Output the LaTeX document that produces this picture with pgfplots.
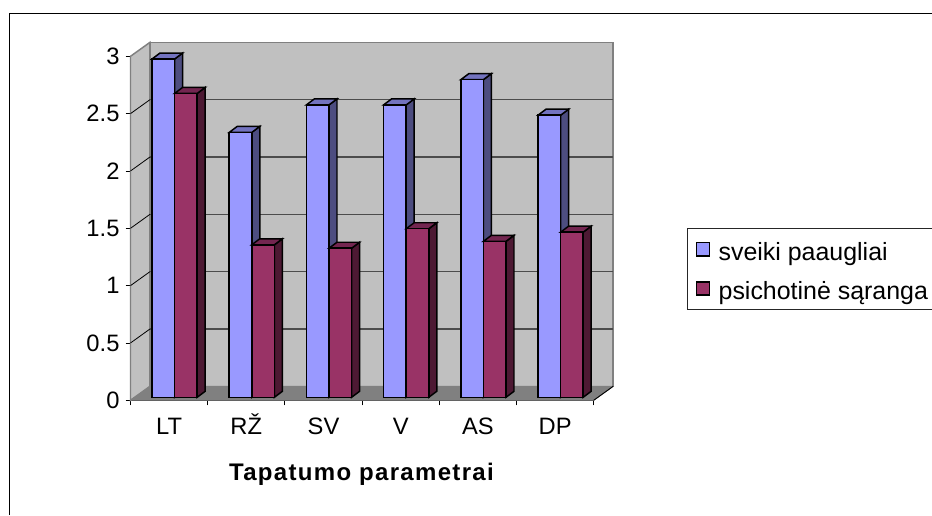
\documentclass[border=0pt]{standalone}
\usepackage{pgfplots}
\pgfplotsset{compat=1.18}
\usepackage{fontspec}
\setmainfont{Liberation Sans}
\def\px{0.75pt}
\definecolor{bluef}{HTML}{9999FF}\definecolor{blues}{HTML}{4D4D80}\definecolor{bluet}{HTML}{7373BF}
\definecolor{redf}{HTML}{993366}\definecolor{reds}{HTML}{4D1933}\definecolor{redt}{HTML}{732650}
\definecolor{wall}{HTML}{C0C0C0}\definecolor{floorc}{HTML}{808080}
\newcommand\threedbar[6]{%
 \pgfmathsetmacro\xa{#1+0.2785+#2*0.2927}%
 \pgfmathsetmacro\xb{\xa+0.2927}%
 \pgfmathsetmacro\xc{\xb+0.1036}%
 \pgfmathsetmacro\xd{\xa+0.1036}%
 \pgfmathsetmacro\yb{0.0262}%
 \pgfmathsetmacro\yt{#3+0.0262}%
 \pgfmathsetmacro\yu{\yt+0.0523}%
 \pgfmathsetmacro\yc{\yb+0.0523}%
 \edef\tmp{\noexpand\addplot[forget plot,fill=#5,draw=black,line width=1.1pt] coordinates {(\xb,\yb) (\xc,\yc) (\xc,\yu) (\xb,\yt)} --cycle;
 \noexpand\addplot[forget plot,fill=#6,draw=black,line width=1.1pt] coordinates {(\xa,\yt) (\xb,\yt) (\xc,\yu) (\xd,\yu)} --cycle;
 \noexpand\addplot[forget plot,fill=#4,draw=black,line width=1.1pt] coordinates {(\xa,\yb) (\xb,\yb) (\xb,\yt) (\xa,\yt)} --cycle;}%
 \tmp}
\begin{document}
\begin{tikzpicture}
\path[use as bounding box] (0,0) rectangle (932*\px,515*\px);
\fill[white] (0,0) rectangle (932*\px,515*\px);
\draw[black,line width=1pt] (9.5*\px,0) -- (9.5*\px,501.5*\px) -- (932*\px,501.5*\px);
\begin{axis}[
 at={(130.5*\px,114.7*\px)},anchor=origin,
 scale only axis,width=463.2*\px,height=344*\px,
 xmin=0,xmax=6,ymin=0,ymax=3,clip=false,
 axis x line*=bottom,axis y line*=left,axis line style={-,black,line width=0.8pt},
 tick align=outside,
 xtick={0.5,1.5,2.5,3.5,4.5,5.5},
 xticklabels={LT,RŽ,SV,V,AS,DP},
 major x tick style={draw=none},
 minor xtick={0,1,2,3,4,5,6},
 minor tick length=3.75pt,
 minor x tick style={black,line width=0.7pt},
 ytick={0,0.5,1,1.5,2,2.5,3},
 major tick length=3.75pt,
 y tick style={black,line width=0.7pt},
 tick label style={font=\fontsize{17.8pt}{20pt}\selectfont},
 x tick label style={yshift=-5pt,text height=13pt,text depth=0pt},
 y tick label style={xshift=-1pt},
 /pgf/number format/assume math mode=true,
 xlabel={\textbf{\addfontfeature{LetterSpace=5.5}Tapatumo parametrai}},
 xlabel style={font=\fontsize{18pt}{20pt}\selectfont,at={(axis description cs:0.5,-0.215)},anchor=center},
 legend image code/.code={\draw[#1] (3pt,-5pt) rectangle (13pt,5pt);\path (0pt,0pt) (17.25pt,0pt);},
 legend style={at={(axis description cs:1.2015,0.502)},anchor=north west,draw=black!85,line width=0.7pt,
   font=\fontsize{18.7pt}{20pt}\selectfont,inner xsep=3pt,inner ysep=6pt,row sep=9.3pt,
   nodes={text depth=0pt,text height=16pt}},
 legend cell align=left,
]
% walls
\addplot[forget plot,fill=wall,draw=floorc,line width=1.1pt] coordinates {(0,0) (0.2526,0.1221) (0.2526,3.1221) (0,3)} --cycle;
\addplot[forget plot,fill=wall,draw=floorc,line width=1.1pt] coordinates {(0.2526,0.1221) (6.2526,0.1221) (6.2526,3.1221) (0.2526,3.1221)} --cycle;
\addplot[forget plot,fill=floorc,draw=floorc,line width=0.5pt] coordinates {(0,0) (0.2526,0.1221) (6.2526,0.1221) (6,0)} --cycle;
\addplot[forget plot,draw=black,line width=0.7pt] coordinates {(6,0) (6.2526,0.1221)};
% grid
\addplot[forget plot,draw=black!70,line width=1pt] coordinates {(0.2526,0.6221) (6.2526,0.6221)};
\addplot[forget plot,draw=black,line width=0.6pt] coordinates {(0,0.5) (0.2526,0.6221)};
\addplot[forget plot,draw=black!70,line width=1pt] coordinates {(0.2526,1.1221) (6.2526,1.1221)};
\addplot[forget plot,draw=black,line width=0.6pt] coordinates {(0,1) (0.2526,1.1221)};
\addplot[forget plot,draw=black!70,line width=1pt] coordinates {(0.2526,1.6221) (6.2526,1.6221)};
\addplot[forget plot,draw=black,line width=0.6pt] coordinates {(0,1.5) (0.2526,1.6221)};
\addplot[forget plot,draw=black!70,line width=1pt] coordinates {(0.2526,2.1221) (6.2526,2.1221)};
\addplot[forget plot,draw=black,line width=0.6pt] coordinates {(0,2) (0.2526,2.1221)};
\addplot[forget plot,draw=black!70,line width=1pt] coordinates {(0.2526,2.6221) (6.2526,2.6221)};
\addplot[forget plot,draw=black,line width=0.6pt] coordinates {(0,2.5) (0.2526,2.6221)};
\threedbar{0}{0}{2.95}{bluef}{blues}{bluet}\threedbar{0}{1}{2.65}{redf}{reds}{redt}
\threedbar{1}{0}{2.31}{bluef}{blues}{bluet}\threedbar{1}{1}{1.33}{redf}{reds}{redt}
\threedbar{2}{0}{2.55}{bluef}{blues}{bluet}\threedbar{2}{1}{1.30}{redf}{reds}{redt}
\threedbar{3}{0}{2.55}{bluef}{blues}{bluet}\threedbar{3}{1}{1.47}{redf}{reds}{redt}
\threedbar{4}{0}{2.77}{bluef}{blues}{bluet}\threedbar{4}{1}{1.36}{redf}{reds}{redt}
\threedbar{5}{0}{2.46}{bluef}{blues}{bluet}\threedbar{5}{1}{1.44}{redf}{reds}{redt}
\addlegendimage{fill=bluef,draw=black,line width=1.1pt}
\addlegendentry{\makebox[180pt][l]{sveiki paaugliai}}
\addlegendimage{fill=redf,draw=black,line width=1.1pt}
\addlegendentry{\makebox[180pt][l]{psichotinė sąranga}}
\end{axis}
\end{tikzpicture}
\end{document}
